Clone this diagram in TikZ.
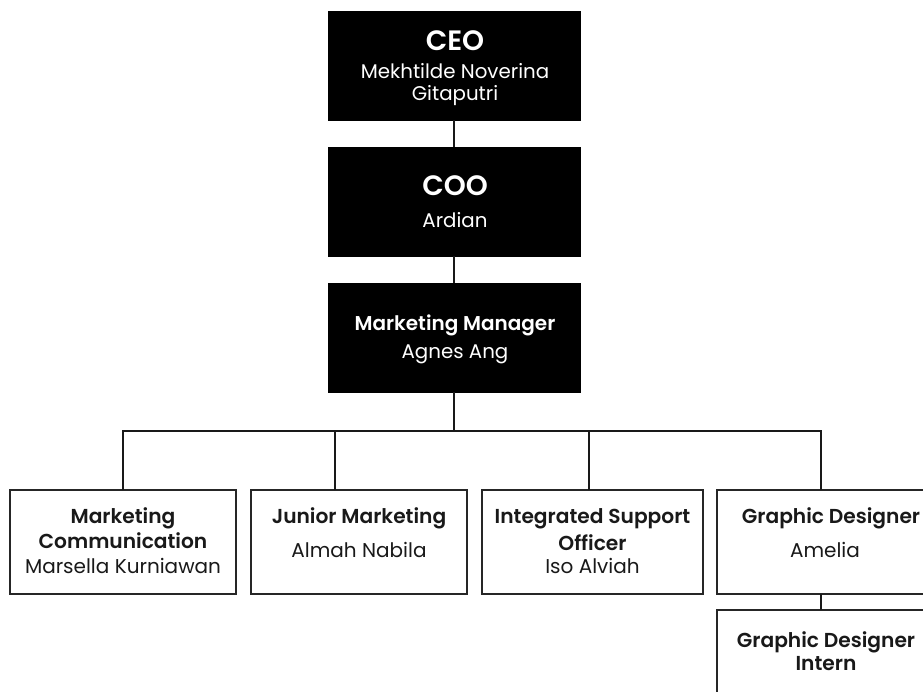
\documentclass[tikz,border=0pt]{standalone}
\usepackage{fontspec}
\setmainfont{Poppins}[BoldFont={Poppins SemiBold}]
\begin{document}
\begin{tikzpicture}[x=1pt,y=-1pt,
  darkbox/.style={draw=black, fill=black, line width=1pt, inner sep=0pt, outer sep=0pt},
  lightbox/.style={draw=black!85, fill=white, line width=2pt, inner sep=0pt, outer sep=0pt},
  link/.style={draw=black!90, line width=2pt},
  bigtitle/.style={anchor=base, inner sep=0pt, text=white, font=\fontsize{28}{30}\selectfont\bfseries},
  dtitle/.style={anchor=base, inner sep=0pt, text=white, font=\fontsize{20}{24}\selectfont\bfseries},
  dname/.style={anchor=base, inner sep=0pt, text=white, font=\fontsize{19.8}{24}\selectfont},
  ltitle/.style={anchor=base, inner sep=0pt, text=black!90, font=\fontsize{20.2}{24}\selectfont\bfseries},
  lname/.style={anchor=base, inner sep=0pt, text=black!90, font=\fontsize{20}{24}\selectfont}]
\useasboundingbox (0,0) rectangle (923,691);
% boxes
\node[darkbox, minimum width=251.5pt, minimum height=109pt] (ceo) at (454.25,65.5) {};
\node[darkbox, minimum width=251.5pt, minimum height=109pt] (coo) at (454.25,201.5) {};
\node[darkbox, minimum width=251.5pt, minimum height=109pt] (mgr) at (454.25,337.5) {};
\node[lightbox, minimum width=226pt, minimum height=104pt] (b1) at (123,542) {};
\node[lightbox, minimum width=216pt, minimum height=104pt] (b2) at (359,542) {};
\node[lightbox, minimum width=221pt, minimum height=104pt] (b3) at (592.5,542) {};
\node[lightbox, minimum width=218pt, minimum height=104pt] (b4) at (826,542) {};
\node[lightbox, minimum width=218pt, minimum height=100pt] (b5) at (826,660) {};
% connectors
\coordinate (bus) at (455,431);
\coordinate (right) at (821,431);
\draw[link] (ceo.south) -- (coo.north);
\draw[link] (coo.south) -- (mgr.north);
\draw[link] (mgr.south) -- (mgr.south |- bus);
\draw[link] (b1.north) -- (b1.north |- bus) -- (right) -- (right |- b4.north);
\draw[link] ([xshift=-24pt]b2.north) -- ([xshift=-24pt]b2.north |- bus);
\draw[link] ([xshift=-3.5pt]b3.north) -- ([xshift=-3.5pt]b3.north |- bus);
\draw[link] (right |- b4.south) -- (right |- b5.north);
% texts
\node[bigtitle] (t1) at (455,50) {CEO};
\node[dname] (n1a) at (455,78) {Mekhtilde Noverina};
\node[dname] (n1b) at (455,100) {Gitaputri};
\node[bigtitle] (t2) at (455,195) {COO};
\node[dname] (n2) at (455,227) {Ardian};
\node[dtitle] (t3) at (455,330) {Marketing Manager};
\node[dname] (n3) at (455,358) {Agnes Ang};
\node[ltitle] (t4a) at (123,523) {Marketing};
\node[ltitle] (t4b) at (123,548) {Communication};
\node[lname] (n4) at (123,573) {Marsella Kurniawan};
\node[ltitle] (t5) at (359,523) {Junior Marketing};
\node[lname] (n5) at (359,557) {Almah Nabila};
\node[ltitle] (t6a) at (592.5,523) {Integrated Support};
\node[ltitle] (t6b) at (592.5,550) {Officer};
\node[lname] (n6) at (592.5,573) {Iso Alviah};
\node[ltitle] (t7) at (831,523) {Graphic Designer};
\node[lname] (n7) at (825,557) {Amelia};
\node[ltitle] (t8a) at (826,647) {Graphic Designer};
\node[ltitle] (t8b) at (826,670) {Intern};
\end{tikzpicture}
\end{document}
